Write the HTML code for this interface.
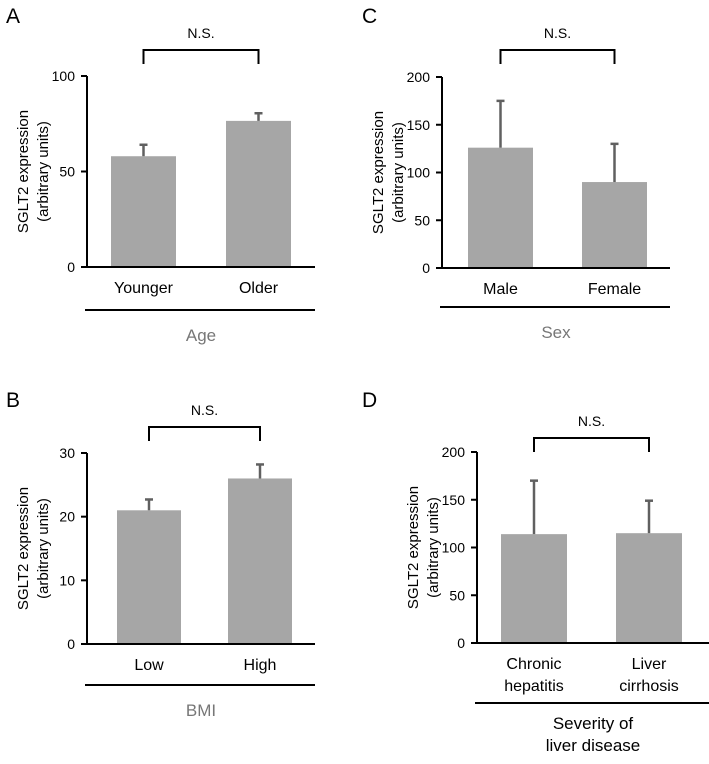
<!DOCTYPE html>
<html><head><meta charset="utf-8"><style>
body{margin:0;background:#fff;width:709px;height:759px;overflow:hidden}
svg{font-family:"Liberation Sans",Arial,sans-serif}
</style></head><body>
<svg id="fig" width="709" height="759" xmlns="http://www.w3.org/2000/svg"></svg>
<script>
const catsA=["Younger","Older"], valsA=[58,76.5], errA=[6,4], ticksA=[0,50,100];
const catsB=["Low","High"], valsB=[21,26], errB=[1.7,2.2], ticksB=[0,10,20,30];
const catsC=["Male","Female"], valsC=[126,90], errC=[49,40], ticksC=[0,50,100,150,200];
const catsD=[["Chronic","hepatitis"],["Liver","cirrhosis"]], valsD=[114,115], errD=[56,34], ticksD=[0,50,100,150,200];

const NS="http://www.w3.org/2000/svg", svg=document.getElementById('fig');
function mk(tag,attrs,parent,text){const e=document.createElementNS(NS,tag);for(const k in attrs)e.setAttribute(k,attrs[k]);if(text!==undefined)e.textContent=text;(parent||svg).appendChild(e);return e;}

function panel(p){
  const g=mk('g',{});
  
  
  const max=p.ticks[p.ticks.length-1];
  const y=v=>p.y0-(v/max)*(p.y0-p.yTop);
  const t=mk('text',{x:p.letterX,y:p.letterY,'font-size':21,fill:'#000'},g,p.id);
  
  
  p.vals.forEach((v,i)=>{
    const x0=p.bx[i], w=p.bw, cx=x0+w/2;
    const r=mk('rect',{x:x0,y:y(v),width:w,height:p.y0-y(v),fill:'#a6a6a6'},g);
    
    
    const e=mk('line',{x1:cx,x2:cx,y1:y(v),y2:y(v+p.err[i]),stroke:'#606060','stroke-width':2.5},g);
    
    
    const c=mk('line',{x1:cx-4,x2:cx+4,y1:y(v+p.err[i]),y2:y(v+p.err[i]),stroke:'#606060','stroke-width':2.5},g);
    
    
    const lab=Array.isArray(p.cats[i])?p.cats[i]:[p.cats[i]];
    lab.forEach((s,j)=>{
      const tx=mk('text',{x:cx,y:p.labY+j*22,'font-size':16,'text-anchor':'middle',fill:'#000'},g,s);
      
      
    });
  });
  const ya=mk('line',{x1:p.ax,x2:p.ax,y1:p.yTop,y2:p.y0+1,stroke:'#000','stroke-width':2},g);
  
  
  const xa=mk('line',{x1:p.ax-6,x2:p.axEnd,y1:p.y0,y2:p.y0,stroke:'#000','stroke-width':2},g);
  
  
  p.ticks.forEach(v=>{
    const tk=mk('line',{x1:p.ax-6,x2:p.ax,y1:y(v),y2:y(v),stroke:'#000','stroke-width':2},g);
    
    
    const tl=mk('text',{x:p.ax-12,y:y(v)+5,'font-size':14,'text-anchor':'end',fill:'#000'},g,v);
    
    
  });
  const yt=mk('text',{transform:`translate(${p.ax-57},${(p.y0+p.yTop)/2}) rotate(-90)`,'font-size':15,'text-anchor':'middle',fill:'#000'},g);
  
  
  mk('tspan',{x:0,dy:-2},yt,'SGLT2 expression');
  mk('tspan',{x:0,dy:20},yt,'(arbitrary units)');
  const c0=p.bx[0]+p.bw/2, c1=p.bx[1]+p.bw/2;
  const br=mk('path',{d:`M${c0},${p.brY+14}V${p.brY}H${c1}V${p.brY+14}`,fill:'none',stroke:'#000','stroke-width':2},g);
  
  
  const ns=mk('text',{x:(c0+c1)/2,y:p.brY-12,'font-size':14,'text-anchor':'middle',fill:'#000'},g,'N.S.');
  
  
  const gl=mk('line',{x1:p.ax-2,x2:p.axEnd,y1:p.gY,y2:p.gY,stroke:'#000','stroke-width':2},g);
  
  
  p.group.forEach((s,j)=>{
    const gt=mk('text',{x:(p.ax+p.axEnd)/2,y:p.gY+p.gOff+j*22,'font-size':17,'text-anchor':'middle',fill:p.gColor},g,s);
    
    
  });
}
panel({id:'A',cats:catsA,vals:valsA,err:errA,ticks:ticksA,letterX:6,letterY:23,ax:87,axEnd:315,y0:267,yTop:76,bx:[111,226],bw:65,labY:293,brY:50,gY:310,gOff:31,group:['Age'],gColor:'#777'});
panel({id:'C',cats:catsC,vals:valsC,err:errC,ticks:ticksC,letterX:362,letterY:23,ax:442,axEnd:670,y0:268,yTop:77,bx:[468,582],bw:65,labY:294,brY:50,gY:307,gOff:31,group:['Sex'],gColor:'#777'});
panel({id:'B',cats:catsB,vals:valsB,err:errB,ticks:ticksB,letterX:6,letterY:407,ax:87,axEnd:315,y0:644,yTop:453,bx:[117,228],bw:64,labY:670,brY:427,gY:685,gOff:31,group:['BMI'],gColor:'#777'});
panel({id:'D',cats:catsD,vals:valsD,err:errD,ticks:ticksD,letterX:362,letterY:407,ax:477,axEnd:709,y0:643,yTop:452,bx:[501,616],bw:66,labY:669,brY:438,gY:703,gOff:26,group:['Severity of','liver disease'],gColor:'#000'});
</script>
</body></html>
